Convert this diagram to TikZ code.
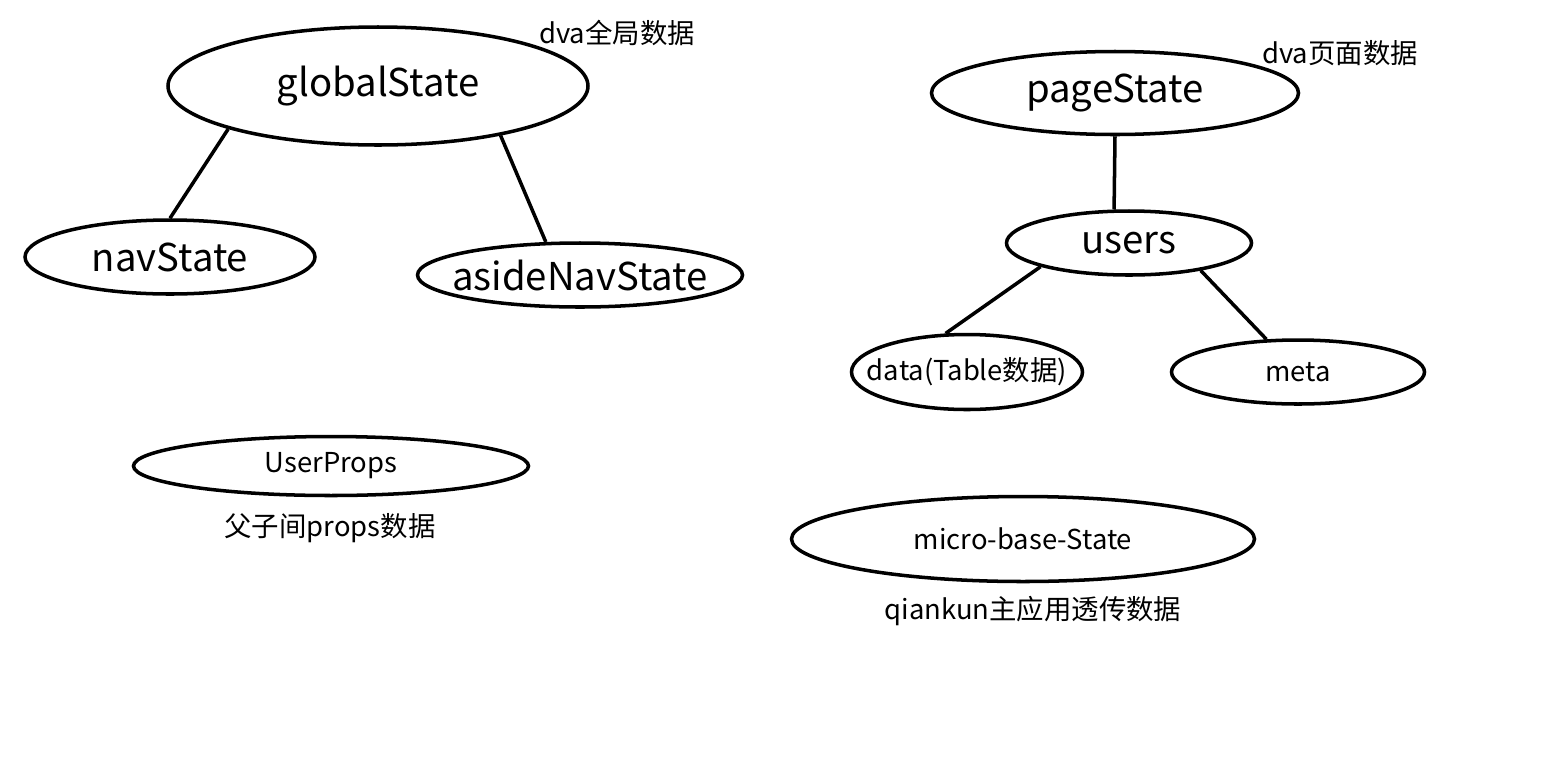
\documentclass[tikz,border=0pt]{standalone}
\usepackage{fontspec}
\setmainfont{Noto Sans CJK SC}
\usetikzlibrary{shapes.geometric}
\newcommand{\inbox}[1]{\makebox[0pt]{#1}}

\begin{document}
\begin{tikzpicture}[
state/.style={ellipse, draw, line width=1pt, inner sep=0pt, font=\fontsize{10.9}{13}\selectfont},
small/.style={ellipse, draw, line width=1pt, inner sep=0pt, font=\fontsize{7.8}{9}\selectfont},
note/.style={font=\fontsize{7.8}{9}\selectfont},
link/.style={line width=1pt}]
\useasboundingbox (0,0) rectangle (15.67,7.58);

%global
\node [state, minimum width=4.2cm, minimum height=1.18cm] at (3.78,6.72) (global) {\inbox{globalState}};
\node [note] at (6.17,7.25) (globalnote) {dva全局数据};
\node [state, minimum width=2.9cm, minimum height=0.74cm] at (1.70,5.01) (nav) {\inbox{navState}};
\node [state, minimum width=3.25cm, minimum height=0.64cm] at (5.80,4.83) (aside) {\inbox{asideNavState}};
\draw[link] (global.196) -- (nav.north);
\draw[link] (global.338) -- (aside.136);

%page
\node [state, minimum width=3.67cm, minimum height=0.83cm] at (11.15,6.65) (page) {\inbox{pageState}};
\node [note] at (13.40,7.05) (pagenote) {dva页面数据};
\node [state, minimum width=2.45cm, minimum height=0.64cm] at (11.29,5.15) (users) {\inbox{users}};
\node [small, minimum width=2.31cm, minimum height=0.75cm] at (9.67,3.86) (data) {\inbox{data(Table数据)}};
\node [small, minimum width=2.53cm, minimum height=0.64cm] at (12.98,3.86) (meta) {\inbox{meta}};
\draw[link] (page.south) -- (users.114);
\draw[link] (users.195) -- (data.119);
\draw[link] (users.339) -- (meta.134);

%props
\node [small, minimum width=3.95cm, minimum height=0.59cm] at (3.31,2.92) (props) {\inbox{UserProps}};
\node [note] at (3.30,2.30) (propsnote) {父子间props数据};

%qiankun
\node [small, minimum width=4.63cm, minimum height=0.85cm] at (10.23,2.19) (micro) {\inbox{micro-base-State}};
\node [note] at (10.33,1.47) (micronote) {qiankun主应用透传数据};
\end{tikzpicture}
\end{document}
